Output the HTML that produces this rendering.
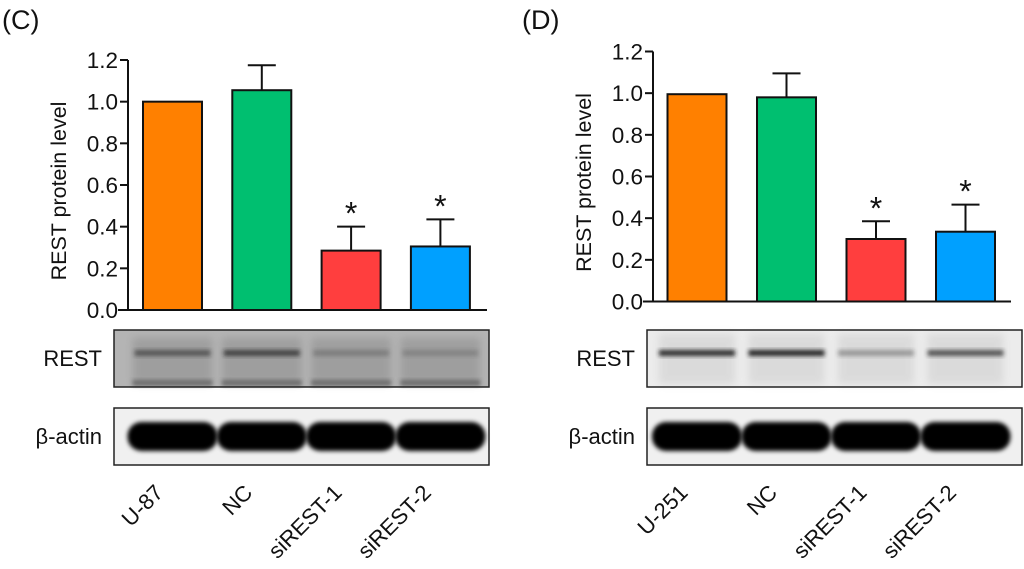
<!DOCTYPE html>
<html><head><meta charset="utf-8"><style>
html,body{margin:0;padding:0;background:#fff;width:1024px;height:569px;overflow:hidden}
svg{display:block;font-family:"Liberation Sans",Arial,sans-serif}
</style></head><body>
<svg id="fig" width="1024" height="569" viewBox="0 0 1024 569" xmlns="http://www.w3.org/2000/svg">
<defs>
<filter id="blur2" x="-20%" y="-50%" width="140%" height="200%"><feGaussianBlur stdDeviation="2"/></filter>
<filter id="blur4" x="-20%" y="-50%" width="140%" height="200%"><feGaussianBlur stdDeviation="4"/></filter>
</defs>
</svg>
<script>
const categoriesC = ["U-87","NC","siREST-1","siREST-2"];
const valuesC = [1.0, 1.055, 0.285, 0.305];
const errorsC = [0, 0.12, 0.115, 0.13];
const starsC = [false,false,true,true];
const categoriesD = ["U-251","NC","siREST-1","siREST-2"];
const valuesD = [0.995, 0.98, 0.30, 0.335];
const errorsD = [0, 0.115, 0.085, 0.13];
const starsD = [false,false,true,true];
const yTicks = [0.0,0.2,0.4,0.6,0.8,1.0,1.2];
const restBandC = [0.55,0.7,0.25,0.2];
const restBandD = [0.9,0.95,0.35,0.7];
const colors = ["#ff8000","#00bf70","#ff3e3e","#00a0ff"];

const NS="http://www.w3.org/2000/svg";
const svg=document.getElementById('fig');
function mk(tag,attrs,parent){const e=document.createElementNS(NS,tag);for(const k in attrs)e.setAttribute(k,attrs[k]);(parent||svg).appendChild(e);return e;}

function panel(p){
  const g=mk('g',{});
  
  
  const t=mk('text',{x:p.lx,y:29,'font-size':27,fill:'#111'},g);t.textContent='('+p.id+')';
  
  
  const y=v=>p.y0-(v/1.2)*(p.y0-p.y12);
  const xs=i=>p.bx0+i*p.step;
  const ax=mk('g',{},g);
  
  
  mk('line',{x1:p.ax,y1:y(1.2),x2:p.ax,y2:p.y0,stroke:'#111','stroke-width':2},ax);
  yTicks.forEach(v=>{
    mk('line',{x1:p.ax-8,y1:y(v),x2:p.ax,y2:y(v),stroke:'#111','stroke-width':2},ax);
    const tt=mk('text',{x:p.ax-10,y:y(v)+8,'font-size':22.5,'text-anchor':'end',fill:'#111'},ax);
    tt.textContent=v.toFixed(1);
    
    
  });
  const yt=mk('text',{x:0,y:0,'font-size':21.5,'text-anchor':'middle',fill:'#111',transform:`translate(${p.ax-62},${(y(0)+y(1.2))/2+6}) rotate(-90)`},g);
  yt.textContent='REST protein level';
  
  
  mk('line',{x1:p.ax-10,y1:p.y0,x2:p.xend,y2:p.y0,stroke:'#111','stroke-width':2},g);
  p.vals.forEach((v,i)=>{
    const x=xs(i);
    const top=y(v+p.errs[i]);
    if(p.errs[i]>0){
      mk('line',{x1:x+p.bw/2,y1:top,x2:x+p.bw/2,y2:y(v),stroke:'#111','stroke-width':2},g);
      mk('line',{x1:x+p.bw/2-14,y1:top,x2:x+p.bw/2+14,y2:top,stroke:'#111','stroke-width':2},g);
    }
    const r=mk('rect',{x:x,y:y(v),width:p.bw,height:p.y0-y(v),fill:colors[i],stroke:'#111','stroke-width':2},g);
    
    
    if(p.stars[i]){
      const s=mk('text',{x:x+p.bw/2,y:top-2,'font-size':32,'text-anchor':'middle',fill:'#111'},g);
      s.textContent='*';
      
      
    }
    const cx=x+p.bw/2;
    const cl=mk('text',{x:0,y:0,'font-size':22,'text-anchor':'end',fill:'#111',transform:`translate(${cx-8},${494}) rotate(-45)`},g);
    cl.textContent=p.cats[i];
    
    
  });
  [['REST',330,p.rest,false],['β-actin',408,null,true]].forEach(([lab,by,bands,actin])=>{
    const bg=mk('g',{},g);
    
    
    mk('rect',{x:p.blx,y:by,width:375,height:57,fill:actin?'#f0f0f0':(p.id=='C'?'#b4b4b4':'#ececec')},bg);
    p.vals.forEach((v,i)=>{
      const cx=xs(i)+p.bw/2;
      if(actin){
        mk('rect',{x:cx-45,y:by+14,width:90,height:29,rx:14,fill:'#050505',filter:'url(#blur2)'},bg);
      }else{
        const a=bands[i];
        if(p.id=='C'){
          mk('rect',{x:cx-40,y:by+8,width:80,height:46,fill:'#777',opacity:0.35,filter:'url(#blur4)'},bg);
          mk('rect',{x:cx-40,y:by+50,width:80,height:6,fill:'#333',opacity:0.5,filter:'url(#blur2)'},bg);
        }else{
          mk('rect',{x:cx-38,y:by+4,width:76,height:50,fill:'#bbb',opacity:0.35,filter:'url(#blur4)'},bg);
        }
        mk('rect',{x:cx-38,y:by+20,width:76,height:6,fill:'#1a1a1a',opacity:a,filter:'url(#blur2)'},bg);
      }
    });
    mk('rect',{x:p.blx,y:by,width:375,height:57,fill:'none',stroke:'#222','stroke-width':1.5},bg);
    const lt=mk('text',{x:p.blx-12,y:by+36,'font-size':22,'text-anchor':'end',fill:'#111'},bg);
    lt.textContent=lab;
    
    
  });
}
panel({id:'C',lx:2,ax:128,y0:310,y12:60,bx0:143,step:89.3,bw:59,xend:487,cats:categoriesC,vals:valuesC,errs:errorsC,stars:starsC,blx:114,rest:restBandC});
panel({id:'D',lx:522,ax:653,y0:301.5,y12:51.5,bx0:667.5,step:89.5,bw:59,xend:1011,cats:categoriesD,vals:valuesD,errs:errorsD,stars:starsD,blx:647,rest:restBandD});
</script>
</body></html>
